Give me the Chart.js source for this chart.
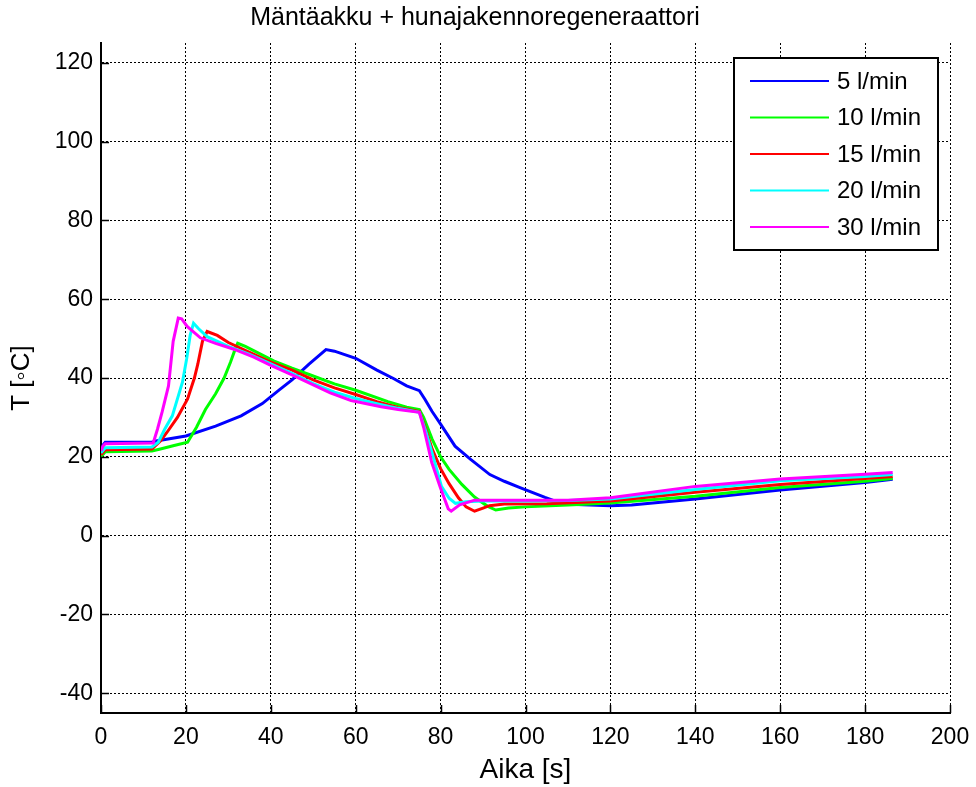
<!DOCTYPE html>
<html>
<head>
<meta charset="utf-8">
<script src="https://cdn.jsdelivr.net/npm/chart.js@4"></script>
<style>
  html, body { margin: 0; padding: 0; background: #fff; }
  #wrap { width: 976px; height: 787px; }
</style>
</head>
<body>
<div id="wrap"><canvas id="tempChart" width="976" height="787"></canvas></div>
<script>
// flow rates and measured temperatures (time in s, temperature in degC)
const flowLabels = ['5 l/min', '10 l/min', '15 l/min', '20 l/min', '30 l/min'];
const flowColors = ['#0000ff', '#00ff00', '#ff0000', '#00ffff', '#ff00ff'];

const t5  = [0, 0.5, 1, 12, 13, 20, 27, 33, 38, 42, 45, 49, 53, 55, 60, 65, 69, 72, 75, 76.3, 78, 80, 83.4, 87, 91.6, 95, 98.7, 104.6, 108, 112, 120, 125, 140, 160, 180, 186.5];
const T5  = [21, 23, 23.7, 23.7, 24, 25.3, 27.8, 30.4, 33.5, 37, 39.5, 43.5, 47.2, 46.8, 45, 42, 39.8, 38, 36.8, 34.6, 31.5, 28.3, 22.7, 19.4, 15.5, 13.8, 12.2, 9.7, 8.4, 7.9, 7.6, 7.8, 9.3, 11.6, 13.5, 14.3];

const t10 = [0, 1, 12, 14, 17, 20.4, 22.5, 24.6, 27, 29, 30.5, 31.5, 32.2, 34, 40.8, 45, 49.5, 55, 60, 67.6, 72, 75, 76, 78, 80, 82, 85, 88, 91, 93, 96, 100, 110, 120, 140, 160, 180, 186.5];
const T10 = [20, 21.3, 21.5, 22, 22.8, 23.7, 27.5, 32, 36, 40, 44, 47, 48.8, 48, 44.3, 42.5, 40.7, 38.5, 36.9, 34, 32.6, 32, 30, 24.5, 20, 16.8, 13, 9.8, 7.5, 6.5, 7, 7.3, 7.8, 8.3, 10, 12.2, 13.8, 14.5];

const t15 = [0, 1, 12, 14, 15.6, 18, 20.4, 22, 22.8, 23.9, 25, 27.4, 30, 35, 40, 45, 50, 55, 60, 65, 70, 75, 76.5, 78, 80, 82, 84.2, 86, 88, 90, 91.5, 95, 105, 120, 140, 160, 180, 186.5];
const T15 = [20.5, 21.8, 22, 24, 26.3, 30, 34.7, 40, 43.5, 49.3, 51.8, 50.8, 49, 46.5, 44, 42, 39.5, 37.5, 35.8, 34, 32.5, 31.5, 27, 22, 17, 13.2, 9.6, 7.3, 6.2, 7, 7.6, 8, 8.1, 8.8, 11, 13, 14.5, 15];

const t20 = [0, 1, 12, 13.5, 15, 16.8, 19.2, 20.2, 21, 21.8, 23, 25, 30, 35, 40, 45, 50, 55, 60, 65, 70, 75, 76.5, 78, 80.2, 82, 83.5, 86, 90, 100, 110, 120, 140, 160, 180, 186.5];
const T20 = [21, 22.3, 22.5, 23.7, 27, 30.4, 39, 45, 50.8, 53.9, 52.5, 50.5, 48, 46, 43.6, 41.2, 38.6, 36.4, 34.8, 33.5, 32.3, 31.3, 26.5, 21, 12.5, 9.5, 8.2, 8.6, 8.8, 8.8, 8.9, 9.3, 11.7, 13.9, 15, 15.5];

const t30 = [0, 0.5, 1, 12.3, 13.3, 14.4, 15.9, 17, 18.2, 19, 20.3, 23.4, 27, 31.3, 36, 40, 45, 49.5, 54, 58.9, 66, 70, 75, 76, 77.9, 80, 81.8, 82.5, 84.5, 88, 95, 110, 120, 140, 160, 180, 186.5];
const T30 = [21.5, 22.8, 23.3, 23.5, 27, 31.4, 38, 49.3, 55.2, 55, 53.1, 50.2, 48.8, 47.3, 45.3, 43.2, 40.8, 38.5, 36.2, 34.3, 32.7, 32, 31.3, 27.5, 18.6, 12, 6.8, 6.2, 7.8, 9, 9, 9, 9.6, 12.5, 14.4, 15.6, 16];

const xTicks = [0, 20, 40, 60, 80, 100, 120, 140, 160, 180, 200];
const yTicks = [-40, -20, 0, 20, 40, 60, 80, 100, 120];

const FONT = "'Liberation Sans', Arial, Helvetica, sans-serif";
const series = [[t5, T5], [t10, T10], [t15, T15], [t20, T20], [t30, T30]];

const datasets = series.map(([t, T], i) => ({
  label: flowLabels[i],
  data: t.map((x, k) => ({ x: x, y: T[k] })),
  borderColor: flowColors[i],
  backgroundColor: flowColors[i],
  borderWidth: 3,
  pointRadius: 0,
  tension: 0,
  fill: false,
  order: series.length - i
}));

// short ticks pointing into the plot on the left and bottom axes
const innerTicks = {
  id: 'innerTicks',
  afterDraw(chart) {
    const { ctx, chartArea: a, scales: { x, y } } = chart;
    ctx.save();
    ctx.strokeStyle = '#000';
    ctx.lineWidth = 1.5;
    ctx.beginPath();
    yTicks.forEach(v => {
      const py = Math.round(y.getPixelForValue(v)) + 0.5;
      ctx.moveTo(a.left, py);
      ctx.lineTo(a.left + 8, py);
    });
    xTicks.forEach(v => {
      const px = Math.round(x.getPixelForValue(v)) + 0.5;
      ctx.moveTo(px, a.bottom);
      ctx.lineTo(px, a.bottom - 8);
    });
    ctx.stroke();
    ctx.restore();
  }
};

// boxed legend in the upper right corner of the plot
const boxLegend = {
  id: 'boxLegend',
  afterDraw(chart) {
    const { ctx } = chart;
    const left = 734, top = 58, w = 204, h = 192;
    ctx.save();
    ctx.fillStyle = '#fff';
    ctx.fillRect(left, top, w, h);
    ctx.strokeStyle = '#000';
    ctx.lineWidth = 2;
    ctx.strokeRect(left, top, w, h);
    ctx.font = '24px ' + FONT;
    ctx.textBaseline = 'middle';
    ctx.textAlign = 'left';
    chart.data.datasets.forEach((ds, i) => {
      const cy = 81 + i * 36.5;
      ctx.strokeStyle = ds.borderColor;
      ctx.lineWidth = 2;
      ctx.beginPath();
      ctx.moveTo(750, cy);
      ctx.lineTo(829, cy);
      ctx.stroke();
      ctx.fillStyle = '#000';
      ctx.fillText(ds.label, 837, cy + 1);
    });
    ctx.restore();
  }
};

new Chart(document.getElementById('tempChart'), {
  type: 'line',
  data: { datasets: datasets },
  plugins: [innerTicks, boxLegend],
  options: {
    responsive: false,
    animation: false,
    layout: { padding: { left: 0, right: 26, top: 0, bottom: 0 } },
    plugins: {
      legend: { display: false },
      tooltip: { enabled: false },
      title: {
        display: true,
        text: 'Mäntäakku + hunajakennoregeneraattori',
        color: '#000',
        font: { family: FONT, size: 25, weight: 'normal' },
        padding: { top: 3, bottom: 10 }
      }
    },
    scales: {
      x: {
        type: 'linear',
        min: 0,
        max: 200,
        afterBuildTicks: s => { s.ticks = xTicks.map(v => ({ value: v })); },
        afterFit: s => { s.height = 74; s.paddingLeft = 0; s.paddingRight = 0; },
        grid: { color: '#000', lineWidth: 1, drawTicks: false },
        border: { display: true, color: '#000', width: 2, dash: [2, 2] },
        ticks: {
          color: '#000',
          padding: 11,
          maxRotation: 0,
          font: { family: FONT, size: 23 }
        },
        title: {
          display: true,
          text: 'Aika [s]',
          color: '#000',
          font: { family: FONT, size: 28 },
          padding: { top: 0, bottom: 0 }
        }
      },
      y: {
        type: 'linear',
        min: -45,
        max: 125,
        afterBuildTicks: s => { s.ticks = yTicks.map(v => ({ value: v })); },
        afterFit: s => { s.width = 101; },
        grid: { color: '#000', lineWidth: 1, drawTicks: false },
        border: { display: true, color: '#000', width: 2, dash: [2, 2] },
        ticks: {
          color: '#000',
          padding: 8,
          font: { family: FONT, size: 23 }
        },
        title: {
          display: true,
          text: 'T [◦C]',
          color: '#000',
          font: { family: FONT, size: 26 },
          padding: { top: 6, bottom: 0 }
        }
      }
    }
  }
});
</script>
</body>
</html>
